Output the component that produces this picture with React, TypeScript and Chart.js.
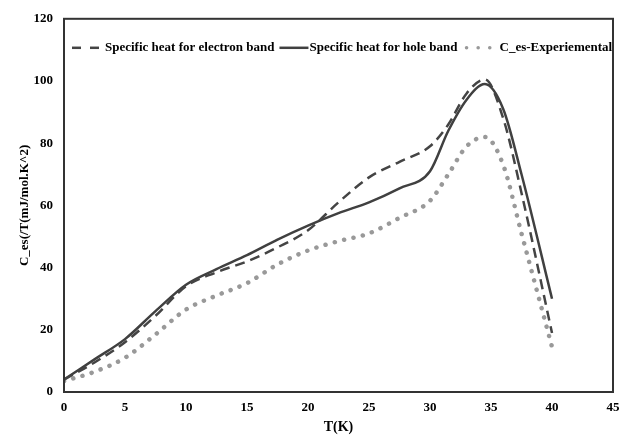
import React, { useEffect, useRef } from "react";
import { Chart, registerables } from "chart.js";

Chart.register(...registerables);

const temps = [0, 2.5, 5, 7.5, 10, 12.5, 15, 17.5, 20, 22.5, 25, 27.5, 30, 31.5, 33, 34.5, 36, 37.5, 40];
const electronBand = [4, 9.5, 16, 24.5, 34, 38.5, 42, 46.5, 52, 61, 69, 74, 79, 86, 96, 100.5, 88, 64, 19];
const holeBand = [4, 10.5, 17, 26, 34.5, 39.5, 44, 49, 53.5, 57.5, 61, 65.5, 71, 84, 94, 99, 91, 70, 30];
const experimental = [3.5, 6.5, 11, 18.5, 26.5, 31, 35, 41, 45.5, 48.5, 51, 56, 61.5, 70, 79, 82, 73, 51, 14.5];

const seriesNames = ["Specific heat for electron band", "Specific heat for hole band", "C_es-Experiemental"];
const xTitle = "T(K)";
const yTitle = "C_es(/T(mJ/mol.K^2)";

const toPoints = (vals: number[]) => vals.map((v, i) => ({ x: temps[i], y: v }));

const frame = {
  id: "frame",
  afterDraw(chart: any) {
    const { ctx, chartArea } = chart;
    ctx.save();
    ctx.strokeStyle = "#333";
    ctx.lineWidth = 2;
    ctx.strokeRect(chartArea.left, chartArea.top, chartArea.right - chartArea.left, chartArea.bottom - chartArea.top);
    ctx.restore();
  },
};

const insideLegend = {
  id: "insideLegend",
  afterDraw(chart: any) {
    const { ctx, chartArea } = chart;
    const y = chartArea.top + 29;
    let x = chartArea.left + 8;
    ctx.save();
    ctx.font = 'bold 13px "Liberation Serif"';
    ctx.textBaseline = "middle";
    chart.data.datasets.forEach((ds: any) => {
      const w = ds.legendSymbolWidth;
      ctx.save();
      ctx.strokeStyle = ds.borderColor;
      ctx.lineWidth = ds.legendWidth || ds.borderWidth;
      ctx.setLineDash(ds.legendDash || ds.borderDash || []);
      ctx.lineCap = ds.borderCapStyle || "butt";
      ctx.beginPath();
      ctx.moveTo(x + (ds.legendInset || 0), y);
      ctx.lineTo(x + w, y);
      ctx.stroke();
      ctx.restore();
      x += w + ds.legendGap;
      ctx.fillStyle = "#000";
      ctx.fillText(ds.label, x, y);
      x += ctx.measureText(ds.label).width + 5;
    });
    ctx.restore();
  },
};

export default function App() {
  const ref = useRef<HTMLCanvasElement>(null);
  useEffect(() => {
    document.body.style.margin = "0";
    const font = { family: "Liberation Serif", weight: "bold" as const, size: 13 };
    const chart = new Chart(ref.current!, {
      type: "line",
      data: {
        datasets: [
          {
            label: seriesNames[0],
            data: toPoints(electronBand),
            borderColor: "#444",
            borderWidth: 2.5,
            borderDash: [10, 6],
            legendDash: [9, 9],
            legendSymbolWidth: 27,
            legendGap: 6,
            pointRadius: 0,
            cubicInterpolationMode: "monotone",
          },
          {
            label: seriesNames[1],
            data: toPoints(holeBand),
            borderColor: "#404040",
            borderWidth: 2.5,
            legendSymbolWidth: 29,
            legendGap: 1,
            pointRadius: 0,
            cubicInterpolationMode: "monotone",
          },
          {
            label: seriesNames[2],
            data: toPoints(experimental),
            borderColor: "#999",
            borderWidth: 4.5,
            borderDash: [0.1, 9.5],
            legendWidth: 3.5,
            legendDash: [0.1, 11.5],
            legendInset: 4,
            legendSymbolWidth: 29,
            legendGap: 8,
            borderCapStyle: "round",
            pointRadius: 0,
            cubicInterpolationMode: "monotone",
          },
        ],
      },
      options: {
        animation: false,
        responsive: false,
        layout: { padding: { left: 17, right: 15, top: 6, bottom: 0 } },
        plugins: {
          legend: { display: false },
          tooltip: { enabled: false },
        },
        scales: {
          x: {
            type: "linear",
            min: 0,
            max: 45,
            afterFit: (s: any) => {
              s.height = 44;
            },
            ticks: { stepSize: 5, color: "#000", font, padding: 8 },
            grid: { display: false, drawTicks: false },
            border: { display: false },
            title: { display: true, text: xTitle, color: "#000", font: { ...font, size: 14 }, padding: { top: 3, bottom: 0 } },
          },
          y: {
            min: 0,
            max: 120,
            afterFit: (s: any) => {
              s.width = 47;
            },
            ticks: { stepSize: 20, color: "#000", font, padding: 11 },
            grid: { display: false, drawTicks: false },
            border: { display: false },
            title: { display: true, text: yTitle, color: "#000", font, padding: 0 },
          },
        },
      },
      plugins: [frame, insideLegend],
    } as any);
    return () => chart.destroy();
  }, []);
  return <canvas ref={ref} width={628} height={436} style={{ display: "block" }} />;
}
